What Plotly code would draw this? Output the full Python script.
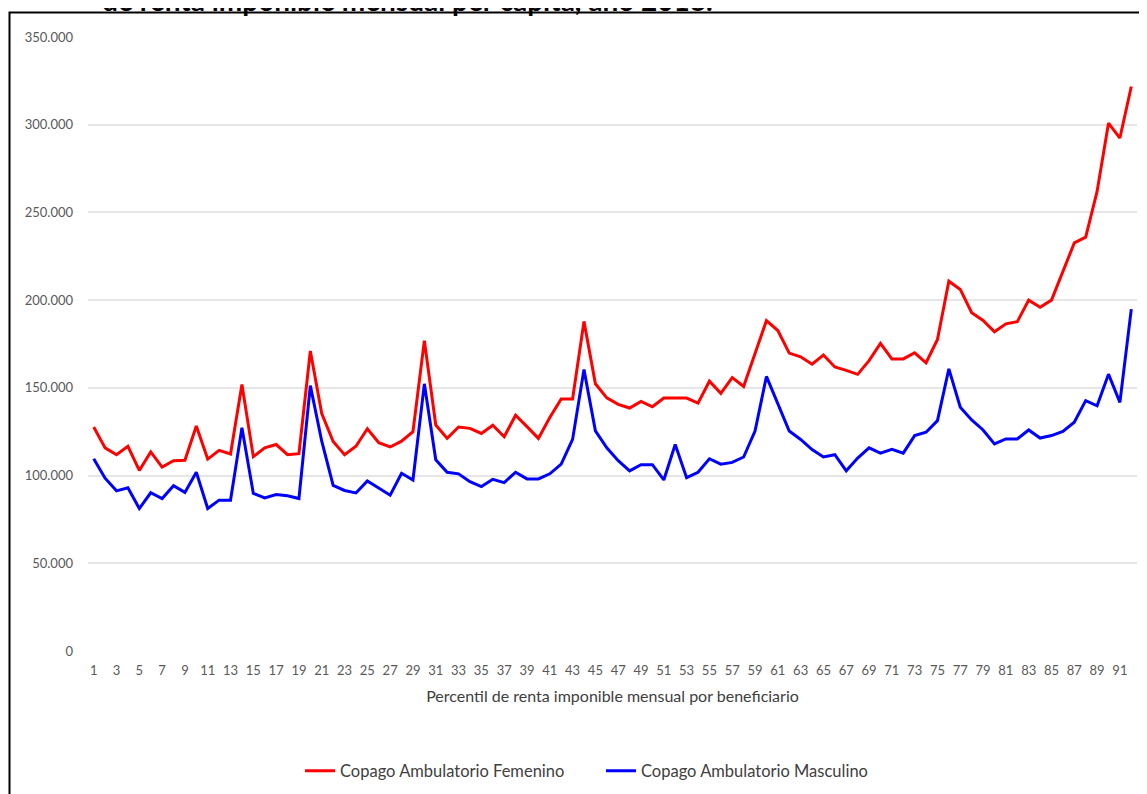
import plotly.graph_objects as go

percentiles = list(range(1, 93))

femenino = [
    127.7, 115.8, 111.9, 116.7, 102.9, 113.5, 104.8, 108.5, 108.7, 128.3,
    109.4, 114.4, 112.3, 151.9, 110.8, 115.8, 117.7, 111.9, 112.5, 171.0,
    135.4, 119.4, 111.9, 116.7, 126.7, 118.7, 116.3, 119.6, 125.0, 176.9,
    128.8, 121.2, 127.7, 126.9, 124.0, 128.7, 122.1, 134.4, 127.9, 121.2,
    133.1, 143.7, 143.7, 187.9, 152.3, 144.3, 140.6, 138.5, 142.3, 139.2,
    144.2, 144.2, 144.2, 141.3, 153.8, 146.9, 155.8, 150.8, 169.6, 188.3,
    182.7, 169.8, 167.7, 163.5, 168.7, 161.9, 160.0, 157.7, 165.5, 175.3,
    166.5, 166.5, 170.0, 164.3, 177.6, 210.8, 206.1, 192.8, 188.4, 182.0,
    186.5, 187.7, 200.0, 196.0, 200.0, 216.5, 232.6, 235.9, 262.0, 300.9,
    292.4, 321.8,
]
masculino = [
    109.6, 98.5, 91.3, 93.1, 81.2, 90.2, 86.9, 94.2, 90.4, 101.9,
    81.2, 86.0, 86.0, 127.3, 89.8, 87.3, 89.2, 88.5, 86.9, 151.3,
    119.6, 94.4, 91.5, 90.1, 96.9, 92.7, 88.8, 101.3, 97.5, 152.3,
    109.0, 101.9, 101.0, 96.5, 93.7, 97.9, 96.0, 101.9, 98.1, 98.1,
    101.0, 106.5, 120.6, 160.4, 125.5, 115.8, 108.5, 102.7, 106.2, 106.2,
    97.5, 117.7, 98.8, 101.9, 109.6, 106.5, 107.5, 110.6, 125.4, 156.5,
    140.8, 125.4, 120.6, 114.8, 110.6, 111.9, 102.7, 110.0, 115.8, 112.8,
    115.0, 112.8, 122.8, 124.7, 131.3, 160.8, 139.0, 131.7, 126.0, 118.0,
    120.9, 120.9, 126.0, 121.4, 122.8, 125.2, 130.4, 142.7, 139.8, 157.8,
    141.7, 194.9,
]
femenino = [v * 1000 for v in femenino]
masculino = [v * 1000 for v in masculino]

y_ticks = [0, 50000, 100000, 150000, 200000, 250000, 300000, 350000]
y_labels = ["0", "50.000", "100.000", "150.000", "200.000", "250.000", "300.000", "350.000"]
x_ticks = list(range(1, 93, 2))

FONT = "Lato, Carlito, 'Open Sans', sans-serif"

# page is offset by the 8px body margin; plot area in figure pixels
L, R, T, B = 80, 1129, 29, 643
H = B - T
W = R - L


def px(x):
    return (x - 8 - L) / W


def py(y):
    return (B - (y - 8)) / H


fig = go.Figure()
fig.add_trace(go.Scatter(x=percentiles, y=femenino, mode="lines",
                         name="Copago Ambulatorio Femenino",
                         line=dict(color="#ff0000", width=3)))
fig.add_trace(go.Scatter(x=percentiles, y=masculino, mode="lines",
                         name="Copago Ambulatorio Masculino",
                         line=dict(color="#0000ff", width=3)))

fig.update_layout(
    width=1147, height=794,
    margin=dict(l=L, r=1147 - R, t=T, b=794 - B),
    paper_bgcolor="white", plot_bgcolor="white",
    font=dict(family=FONT, color="#595959", size=13),
    showlegend=True,
    legend=dict(orientation="h", x=px(300), xanchor="left", y=py(771), yanchor="middle",
                font=dict(size=16.5, color="#404040"),
                entrywidth=256, bgcolor="rgba(0,0,0,0)"),
    xaxis=dict(range=[0.5, 92.5], tickmode="array", tickvals=x_ticks,
               ticktext=[str(v) for v in x_ticks], showgrid=False, zeroline=False,
               showline=False, ticks="", ticklabelstandoff=10,
               tickfont=dict(size=13, color="#595959"),
               title=dict(text="Percentil de renta imponible mensual por beneficiario",
                          font=dict(size=16, color="#404040"), standoff=13)),
    yaxis=dict(range=[0, 350000], tickmode="array", tickvals=y_ticks, ticktext=y_labels,
               showgrid=True, gridcolor="#e6e6e6", gridwidth=2, zeroline=False,
               showline=False, ticks="", ticklabelstandoff=14,
               tickfont=dict(size=13, color="#595959")),
    shapes=[dict(type="rect", xref="paper", yref="paper",
                 x0=px(9.5), x1=px(1170),
                 y0=py(830), y1=py(12.5),
                 line=dict(color="black", width=2), fillcolor="rgba(0,0,0,0)")],
    annotations=[dict(text="<b>de renta imponible mensual per cápita, año 2018.</b>",
                      xref="paper", yref="paper", x=px(100), xanchor="left",
                      y=py(0), yanchor="middle", showarrow=False,
                      font=dict(family=FONT, size=28, color="black"))],
)

fig.write_html("out.html")
